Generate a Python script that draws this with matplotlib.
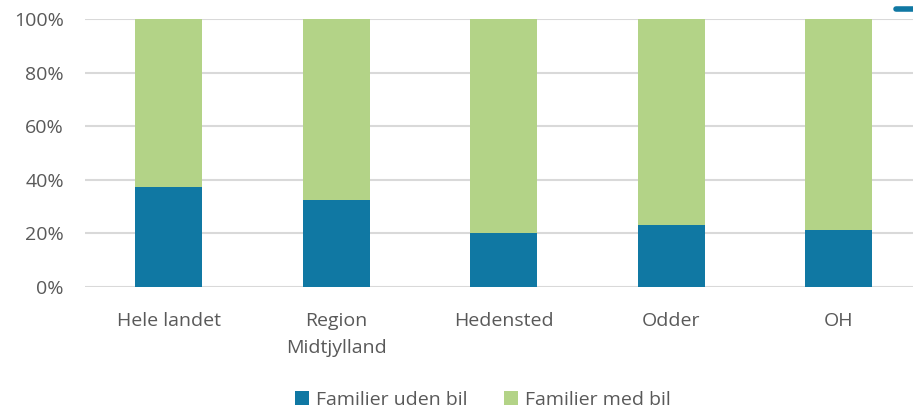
import matplotlib
matplotlib.use('agg')
from matplotlib import pyplot
from matplotlib.lines import Line2D

# andel familier med/uden bil (procent)
omraader = ['Hele landet', 'Region\nMidtjylland', 'Hedensted', 'Odder', 'OH']
uden_bil = [37.3, 32.5, 20.2, 23.1, 21.3]
med_bil = [100 - v for v in uden_bil]

blaa = '#1078a3'
groen = '#b3d387'
graa_tekst = '#595959'

pyplot.rcParams['font.family'] = ['Open Sans', 'DejaVu Sans']

figura = pyplot.figure(figsize=(9.13, 4.11), dpi=100)
axes = figura.add_axes([84.7 / 913, 1 - 287 / 411, 838 / 913, 268 / 411])

x = range(len(omraader))
axes.bar(x, uden_bil, width=0.4, color=blaa, label='Familier uden bil', zorder=3)
axes.bar(x, med_bil, width=0.4, bottom=uden_bil, color=groen,
         label='Familier med bil', zorder=3)

axes.set_xlim(-0.5, len(omraader) - 0.5)
axes.set_ylim(0, 100)
axes.set_yticks([0, 20, 40, 60, 80, 100])
axes.set_yticklabels(['0%', '20%', '40%', '60%', '80%', '100%'])
axes.set_xticks(list(x))
axes.set_xticklabels(omraader, linespacing=1.65)
axes.yaxis.grid(True, color='#d9d9d9', linewidth=1.5, zorder=0)
axes.set_axisbelow(True)
for side in axes.spines.values():
    side.set_visible(False)
axes.tick_params(axis='both', length=0, labelsize=14, colors=graa_tekst)
axes.tick_params(axis='y', pad=15)
axes.tick_params(axis='x', pad=18)

axes.legend(loc='center', bbox_to_anchor=(483 / 913, 1 - 400 / 411),
            bbox_transform=figura.transFigure, ncol=2, frameon=False,
            fontsize=14, labelcolor=graa_tekst, handlelength=0.7,
            handleheight=0.7, handletextpad=0.35, columnspacing=1.9)

# lille afskaaret streg oeverst til hoejre
figura.add_artist(Line2D([896 / 913, 1.0], [1 - 9 / 411, 1 - 9 / 411],
                         transform=figura.transFigure, color=blaa,
                         linewidth=4, solid_capstyle='round'))

pyplot.savefig('out.png', dpi=100)
